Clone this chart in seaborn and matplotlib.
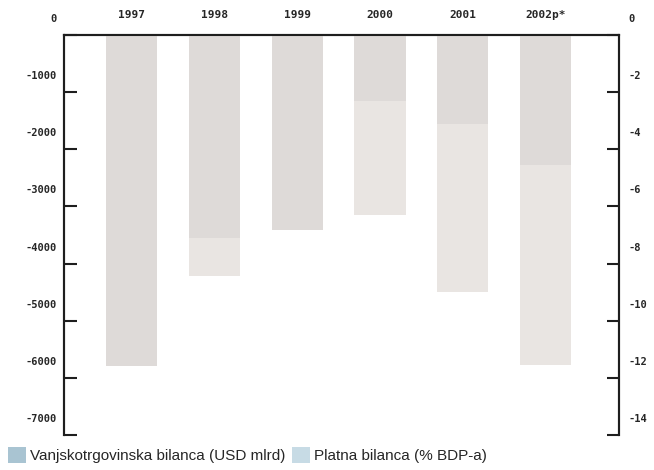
import numpy as np
import pandas as pd
import matplotlib
matplotlib.use("Agg")
import matplotlib.pyplot as plt
import matplotlib.transforms as mtransforms
from matplotlib.patches import Patch
import seaborn as sns

# data
godine = ["1997", "1998", "1999", "2000", "2001", "2002p*"]
trgovinska = [-5800, -3550, -3410, -1160, -1565, -2270]   # USD, left axis
platna = [-11.5, -8.45, -6.7, -6.3, -9.0, -11.55]          # % BDP, right axis
lijeve_oznake = [0, -1000, -2000, -3000, -4000, -5000, -6000, -7000]
desne_oznake = [0, -2, -4, -6, -8, -10, -12, -14]

df = pd.DataFrame({"godina": godine, "trgovinska": trgovinska, "platna": platna})

sns.set_theme(style="white")
plt.rcParams["font.family"] = ["Liberation Sans Narrow", "Liberation Sans", "DejaVu Sans"]

boja_tamna = "#dedad8"
boja_svijetla = "#e9e5e2"
boja_leg1 = "#a9c4d2"
boja_leg2 = "#c7dbe5"
crna = "#1e1e1e"

fig = plt.figure(figsize=(6.54, 4.70), dpi=100)
ax = fig.add_axes([0.0979, 0.0745, 0.8486, 0.851])
ax2 = ax.twinx()

# svijetli stupci (platna bilanca) ispod, tamni (trgovinska) preko
sns.barplot(data=df, x="godina", y="platna", order=godine, color=boja_svijetla,
            saturation=1, width=0.62, linewidth=0, ax=ax)
sns.barplot(data=df, x="godina", y="trgovinska", order=godine, color=boja_tamna,
            saturation=1, width=0.62, linewidth=0, ax=ax2)
ax2.patch.set_visible(False)

ax.set_xlim(-0.82, 5.89)
ax.set_ylim(-14, 0)
ax2.set_ylim(-7000, 0)

# right axis belongs to ax, left axis to ax2
ax.yaxis.tick_right()
ax2.yaxis.tick_left()
ax.set_yticks(desne_oznake)
ax.set_yticklabels([str(v) for v in desne_oznake])
ax2.set_yticks(lijeve_oznake)
ax2.set_yticklabels([str(v) for v in lijeve_oznake])

ax.xaxis.tick_top()
ax2.xaxis.tick_top()
ax.tick_params(axis="x", length=0, pad=11, labelsize=8)
ax2.tick_params(axis="x", length=0, labeltop=False, labelbottom=False)
for t in ax.get_xticklabels():
    t.set_fontweight("bold")
    t.set_family("DejaVu Sans Mono")

ax.tick_params(axis="y", direction="in", length=9, width=1.5, color=crna,
               pad=7, labelsize=7.5, right=True, left=False,
               labelright=True, labelleft=False)
ax2.tick_params(axis="y", direction="in", length=9, width=1.5, color=crna,
                pad=5, labelsize=7.5, left=True, right=False,
                labelleft=True, labelright=False)

pomak = mtransforms.ScaledTranslation(0, 17 / 100, fig.dpi_scale_trans)
for t in ax.get_yticklabels() + ax2.get_yticklabels():
    t.set_transform(t.get_transform() + pomak)
    t.set_family("DejaVu Sans Mono")
    t.set_fontweight("bold")

for a in (ax, ax2):
    a.set_xlabel("")
    a.set_ylabel("")
    a.spines["bottom"].set_visible(False)
    for s in ("left", "right", "top"):
        a.spines[s].set_color(crna)
        a.spines[s].set_linewidth(1.5)

ruke = [Patch(facecolor=boja_leg1, edgecolor="none"),
        Patch(facecolor=boja_leg2, edgecolor="none")]
fig.legend(ruke, ["Vanjskotrgovinska bilanca (USD mlrd)", "Platna bilanca (% BDP-a)"],
           loc="center left", bbox_to_anchor=(0.012, 0.032), ncol=2, frameon=False,
           fontsize=11.0, handlelength=1.17, handleheight=1.2, handletextpad=0.28,
           columnspacing=0.45, borderaxespad=0, borderpad=0)

fig.savefig("out.png", dpi=100)
